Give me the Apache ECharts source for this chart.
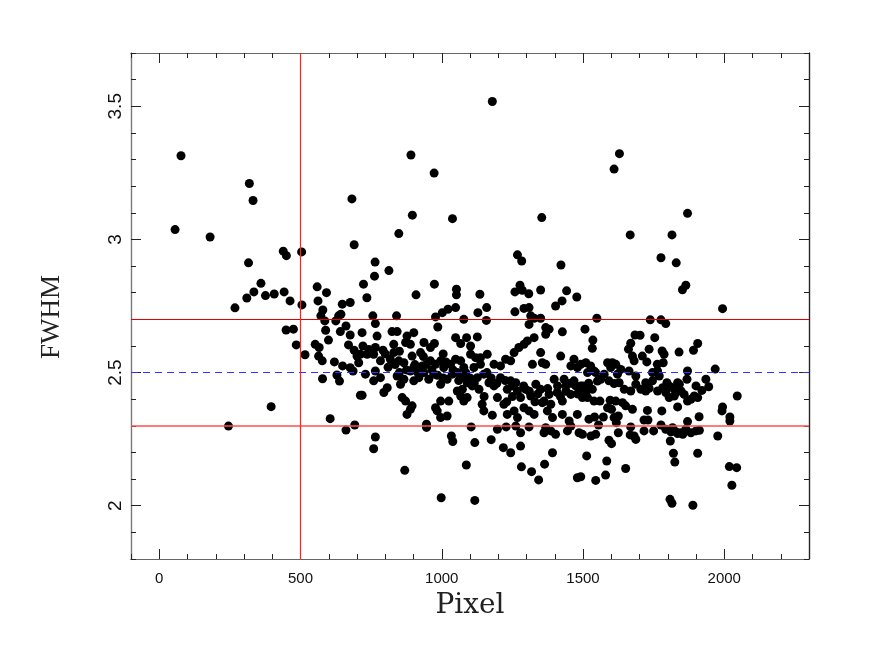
<!DOCTYPE html>
<html>
<head>
<meta charset="utf-8">
<script src="https://cdn.jsdelivr.net/npm/echarts@6/dist/echarts.min.js"></script>
<style>html,body{margin:0;padding:0;background:#fff;}#c{width:889px;height:664px;}</style>
</head>
<body>
<div id="c"></div>
<script>
// ---- data: [pixel, FWHM] ----
const upperLeftPoints = [[77,3.314],[56,3.037],[180,3.009],[319,3.21],[332,3.146],[316,2.912],[439,2.956],[450,2.939],[504,2.953],[682,3.152],[690,2.980],[360,2.835],[335,2.803],[310,2.780],[376,2.789],[407,2.795],[442,2.803],[463,2.769],[559,2.822],[592,2.800],[562,2.769]];
const lowerLeftPoints = [[268,2.743],[505,2.754],[579,2.735],[572,2.713],[586,2.694],[625,2.694],[635,2.713],[643,2.719],[648,2.757],[676,2.763],[661,2.675],[641,2.654],[589,2.659],[599,2.622],[449,2.660],[475,2.663],[485,2.604],[516,2.567],[552,2.606],[566,2.594],[564,2.562],[577,2.544],[620,2.540],[676,2.641],[670,2.604],[690,2.584],[700,2.562],[706,2.537],[649,2.525],[676,2.518],[686,2.506],[578,2.477],[629,2.491],[638,2.468],[712,2.415],[396,2.372],[245,2.299],[605,2.327],[661,2.284],[692,2.303]];
const upperMidPoints = [[1179,3.518],[891,3.317],[973,3.249],[896,3.091],[1038,3.078],[1354,3.082],[848,3.022],[1268,2.942],[1283,2.919],[1422,2.904],[764,2.915],[762,2.862],[813,2.883],[723,2.832],[735,2.781],[909,2.792],[974,2.832],[1052,2.813],[1052,2.792],[1135,2.794],[1259,2.803],[1277,2.828],[1285,2.809],[1308,2.796],[1350,2.810],[1442,2.807],[1426,2.769],[1478,2.784]];
const upperRightPoints = [[1629,3.322],[1610,3.264],[1870,3.098],[1667,3.017],[1815,3.017],[1776,2.931],[1830,2.912],[1864,2.828],[1852,2.811]];
const midPoints = [[756,2.713],[765,2.684],[840,2.713],[978,2.709],[1002,2.725],[1022,2.738],[1049,2.744],[986,2.671],[1078,2.700],[1128,2.725],[1159,2.744],[1158,2.696],[1259,2.728],[1291,2.741],[1309,2.744],[1315,2.713],[1327,2.704],[1350,2.704],[1309,2.681],[1403,2.750],[1368,2.669],[1380,2.663],[1368,2.644],[1427,2.653],
[718,2.650],[771,2.637],[824,2.654],[842,2.654],[877,2.637],[901,2.650],[872,2.613],[889,2.606],[830,2.606],[937,2.613],[960,2.594],[974,2.609],[1049,2.631],[1067,2.609],[1088,2.631],[1126,2.634],[1102,2.600],[721,2.600],[742,2.587],[765,2.594],[792,2.584],[712,2.569],[736,2.569],[759,2.569],[783,2.544],[830,2.575],[818,2.550],[848,2.544],[866,2.537],[895,2.562],[925,2.575],[901,2.519],[931,2.525],[960,2.544],[978,2.531],[996,2.544],[1007,2.519],[1031,2.531],[1049,2.550],[1067,2.544],[1078,2.519],[1102,2.569],[1120,2.556],[1137,2.556],[1161,2.569],[1137,2.531],[1114,2.519],[1185,2.531],[1208,2.525],[1226,2.550],[1244,2.544],[1256,2.575],[1273,2.594],[1291,2.606],[1303,2.619],[1327,2.631],[1350,2.575],[1321,2.531],[1356,2.537],[1368,2.531],[1421,2.562],[1468,2.550],[1480,2.519],[1457,2.525],
[730,2.494],[765,2.506],[759,2.469],[783,2.481],[718,2.415],[807,2.443],[795,2.425],[842,2.487],[854,2.456],[866,2.475],[889,2.506],[901,2.469],[919,2.481],[937,2.500],[954,2.475],[972,2.494],[996,2.456],[1019,2.475],[1037,2.494],[1055,2.500],[1073,2.481],[1090,2.462],[1055,2.431],[1073,2.437],[1067,2.412],[1090,2.406],[1108,2.450],[1126,2.481],[1132,2.437],[1149,2.494],[1167,2.462],[1185,2.450],[1197,2.406],[1208,2.481],[1232,2.437],[1244,2.469],[1262,2.462],[1268,2.431],[1279,2.406],[1297,2.437],[1315,2.412],[1333,2.456],[1350,2.437],[1362,2.393],[1380,2.418],[1398,2.475],[1409,2.425],[1427,2.393],[1439,2.450],[1457,2.418],[1474,2.450],[1468,2.469],[1433,2.475],
[860,2.406],[872,2.393],[895,2.375],[889,2.362],[877,2.343],[978,2.368],[996,2.393],[1025,2.393],[984,2.356],[996,2.331],[1019,2.337],[1078,2.393],[1143,2.381],[1149,2.356],[1179,2.340],[1220,2.381],[1232,2.343],[1256,2.356],[1268,2.331],[1291,2.368],[1309,2.356],[1327,2.343],[1356,2.387],[1374,2.356],[1386,2.381],[1392,2.331],[1427,2.343],[1451,2.318],[1480,2.343],[1457,2.299],[1445,2.281],
[946,2.306],[946,2.294],[1104,2.296],[1197,2.287],[1228,2.296],[1262,2.299],[1279,2.274],[1309,2.296],[1368,2.293],[1362,2.274],[1403,2.268],[1386,2.281],[1486,2.274],
[765,2.258],[759,2.214],[1034,2.262],[1039,2.241],[1117,2.237],[1175,2.248],[1218,2.218],[1244,2.199],[1279,2.224],[1392,2.199],
[869,2.133],[1087,2.153],[1282,2.146],[1318,2.128],[1343,2.097],[1364,2.156],[1480,2.105],[998,2.030],[1117,2.020]];
const denseBandPoints = [[810,2.52],[835,2.53],[850,2.50],[875,2.51],[905,2.53],[915,2.50],[945,2.53],[965,2.51],[985,2.49],[1005,2.48],[1015,2.54],[1040,2.51],[1060,2.47],[1085,2.50],[1100,2.48],[1115,2.46],[1160,2.50],[1175,2.48],[1195,2.46],[1225,2.47],[1250,2.45],[1290,2.45],[1310,2.43],[1340,2.42],[1375,2.44],[1410,2.45],[1440,2.43],[1455,2.46],[1420,2.41],[1500,2.45],[1520,2.46],[1480,2.42],[1250,2.41],[1230,2.39],[1330,2.39],[1150,2.41],[800,2.57],[850,2.58],[935,2.56],[1005,2.57]];
const rightPoints = [[1994,2.740],[1549,2.704],[1507,2.663],[1738,2.698],[1776,2.698],[1793,2.684],[1684,2.641],[1702,2.640],[1754,2.631],[1535,2.622],[1533,2.591],[1669,2.610],[1661,2.588],[1734,2.588],[1780,2.581],[1787,2.569],[1840,2.577],[1906,2.609],[1891,2.584],[1675,2.562],[1681,2.544],[1710,2.562],[1726,2.540],[1763,2.531],[1784,2.537],[1968,2.513],[1870,2.506],[1868,2.475],[1935,2.475],[1945,2.447],[1900,2.450],[1921,2.433],[2046,2.412],[1994,2.371],[1992,2.356],[2020,2.333],[2020,2.318],[1977,2.262],[1906,2.197],[2018,2.147],[2044,2.143],[2027,2.077],[1889,2.002],[1808,2.024],[1815,2.009],[1820,2.197],[1825,2.164],[1809,2.243],[1651,2.140],[1584,2.168],[1580,2.115],[1545,2.095],[1513,2.187],[1492,2.109],[1592,2.246],[1601,2.233],[1835,2.371],[1911,2.334],[1779,2.356],[1728,2.358],[1716,2.322],[1730,2.322],[1750,2.281],[1776,2.303],[1669,2.296],[1681,2.262],[1667,2.266],[1687,2.249],[1716,2.281],[1625,2.274],[1555,2.303],[1545,2.268],[1528,2.262],[1498,2.268],[1541,2.333],[1521,2.325],[1572,2.333],[1610,2.331],[1618,2.312],[1625,2.337],[1601,2.362],[1587,2.368],[1560,2.393],[1596,2.396],[1616,2.393],[1640,2.387],[1651,2.375],[1675,2.362],[1495,2.431],[1512,2.431],[1533,2.437],[1492,2.450],[1551,2.468],
[1563,2.475],[1592,2.469],[1610,2.459],[1628,2.462],[1646,2.437],[1669,2.431],[1687,2.456],[1705,2.437],[1722,2.431],[1734,2.441],[1746,2.469],[1764,2.431],[1782,2.443],[1793,2.425],[1805,2.450],[1817,2.443],[1829,2.425],[1841,2.456],[1847,2.431],[1858,2.418],[1870,2.393],[1882,2.400],[1894,2.412],[1906,2.406],[1805,2.406],[1823,2.412],[1498,2.406],[1516,2.406],[1539,2.393],
[1492,2.531],[1510,2.537],[1527,2.525],[1545,2.500],[1516,2.500],[1539,2.506],[1587,2.537],[1604,2.537],[1616,2.531],[1575,2.494],[1622,2.494],[1634,2.512],[1598,2.519],[1663,2.506],[1687,2.487],[1722,2.462],[1746,2.500],[1764,2.506],[1770,2.487],[1797,2.462],[1835,2.462],
[1793,2.287],[1817,2.293],[1829,2.278],[1847,2.274],[1864,2.287],[1882,2.274],[1900,2.281],[1912,2.283],[1870,2.316],[1853,2.268],[1835,2.271],[1811,2.278]];

const hLines = [2.7, 2.5, 2.3];
const vLines = [500];
const xMajor = [0, 500, 1000, 1500, 2000];
const yMajor = [2, 2.5, 3, 3.5];
const xRange = [-100, 2300];
const yRange = [1.8, 3.7];

const allPoints = [].concat(upperLeftPoints, lowerLeftPoints, upperMidPoints, upperRightPoints, midPoints, denseBandPoints, rightPoints);

const chart = echarts.init(document.getElementById('c'), null, {renderer: 'canvas'});

function xAx(pos, major, label) {
  const a = {
    type: 'value', position: pos, min: xRange[0], max: xRange[1],
    axisLine: {show: true, onZero: false, lineStyle: {color: '#666', width: 1.2}},
    axisTick: {show: true, inside: true, length: major ? 10 : 5, lineStyle: {color: '#222', width: 1}},
    axisLabel: {show: false},
    splitLine: {show: false}
  };
  if (major) { a.axisTick.customValues = xMajor; } else { a.interval = 100; }
  if (label) {
    a.axisLabel = {show: true, customValues: xMajor, fontFamily: 'Liberation Sans, Arial, sans-serif', fontSize: 15, color: '#111', margin: 12,
      formatter: v => String(v)};
  }
  return a;
}
function yAx(pos, major, label, lineColor) {
  const a = {
    type: 'value', position: pos, min: yRange[0], max: yRange[1],
    axisLine: {show: true, onZero: false, lineStyle: {color: lineColor, width: 1.2}},
    axisTick: {show: true, inside: true, length: major ? 10 : 5, lineStyle: {color: '#222', width: 1}},
    axisLabel: {show: false},
    splitLine: {show: false}
  };
  if (major) { a.axisTick.customValues = yMajor; } else { a.interval = 0.1; }
  if (label) {
    a.axisLabel = {show: true, customValues: yMajor, rotate: 90, fontFamily: 'Liberation Sans, Arial, sans-serif', fontSize: 19, color: '#111', margin: 6,
      formatter: v => String(v)};
  }
  return a;
}

const lineData = hLines.map((v, i) => ({
  yAxis: v,
  lineStyle: i === 1 ? {color: '#3030ff', width: 1, type: [7, 5]} : {color: i === 0 ? '#e00000' : '#ff5050', width: i === 0 ? 1 : 1.6, type: 'solid'}
})).concat(vLines.map(v => ({xAxis: v, lineStyle: {color: '#ff2020', width: 1.2, type: 'solid'}})));

chart.setOption({
  animation: false,
  backgroundColor: '#fff',
  grid: {left: 131, top: 53, width: 678, height: 506, containLabel: false},
  xAxis: [xAx('bottom', true, true), xAx('bottom', false, false), xAx('top', true, false), xAx('top', false, false)],
  yAxis: [yAx('left', true, true, '#777'), yAx('left', false, false, '#777'), yAx('right', true, false, '#222'), yAx('right', false, false, '#222')],
  graphic: [
    {type: 'text', x: 470, y: 606, style: {text: 'Pixel', font: '28px "DejaVu Serif", serif', fill: '#222', textAlign: 'center', textVerticalAlign: 'middle'}},
    {type: 'text', x: 52, y: 317, rotation: Math.PI / 2, style: {text: 'FWHM', font: '27px "Liberation Serif", serif', fill: '#222', textAlign: 'center', textVerticalAlign: 'middle'}}
  ],
  series: [{
    type: 'scatter',
    xAxisIndex: 0, yAxisIndex: 0,
    data: allPoints,
    symbol: 'circle', symbolSize: 9,
    itemStyle: {color: '#000', opacity: 1},
    silent: true,
    markLine: {silent: true, symbol: 'none', label: {show: false}, animation: false, data: lineData}
  }]
});
</script>
</body>
</html>
